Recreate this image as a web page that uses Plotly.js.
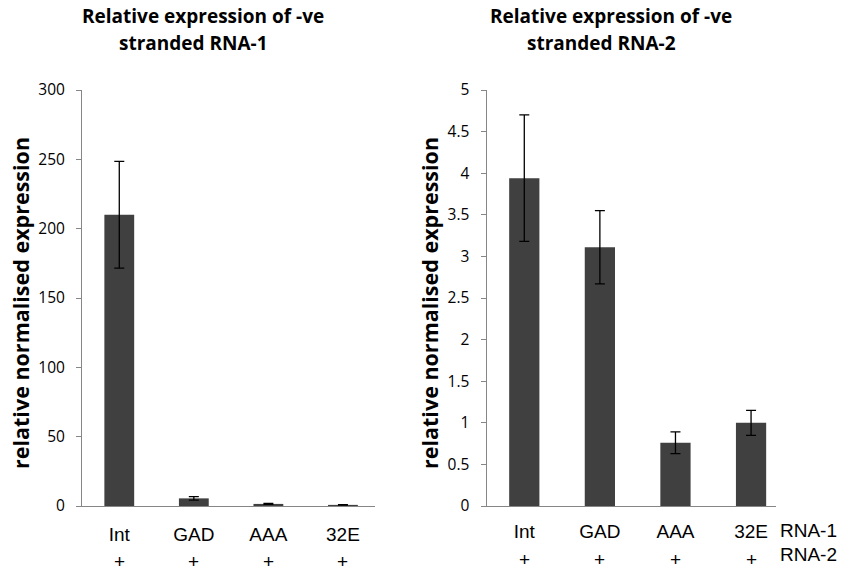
<!DOCTYPE html>
<html>
<head>
<meta charset="utf-8">
<script src="https://cdn.plot.ly/plotly-3.0.1.min.js"></script>
<style>html,body{margin:0;padding:0;background:#fff;}#chart{width:841px;height:571px;}</style>
</head>
<body>
<div id="chart"></div>
<script>
// ---- data ----
var categories = ["Int", "GAD", "AAA", "32E"];
var rna1Values = [210, 5.5, 1.5, 0.8];
var rna1Errors = [38.5, 1.3, 0.3, 0.2];
var rna2Values = [3.94, 3.11, 0.76, 1.0];
var rna2Errors = [0.76, 0.44, 0.13, 0.15];
var rna2Marks = ["+", "+", "+", "+"];
var titles = [["Relative expression of -ve", "stranded RNA-1"], ["Relative expression of -ve", "stranded RNA-2"]];
var yTitle = "relative normalised expression";
var rowLabels = ["RNA-1", "RNA-2"];

var W = 841, H = 571;
function px(x) { return x / W; }
function py(y) { return (H - y) / H; }

var barColor = "#404040";
var axisColor = "#868686";
var titleFont = {family: "Open Sans, sans-serif", size: 19, color: "#000"};
var yTitleFont = {family: "Open Sans, sans-serif", size: 21.5, color: "#000"};
var tickFontY = {family: "Open Sans, sans-serif", size: 15.5, color: "#000"};
var tickFontX = {family: "Liberation Sans, Arial, sans-serif", size: 19, color: "#000"};

var traces = [
  {type: "bar", x: categories, y: rna1Values, xaxis: "x", yaxis: "y", width: 0.4,
   marker: {color: barColor, line: {width: 0}},
   error_y: {type: "data", array: rna1Errors, visible: true, color: "#000", thickness: 1.3, width: 5}},
  {type: "bar", x: categories, y: rna2Values, xaxis: "x2", yaxis: "y2", width: 0.4,
   marker: {color: barColor, line: {width: 0}},
   error_y: {type: "data", array: rna2Errors, visible: true, color: "#000", thickness: 1.3, width: 5}}
];

function xAxis(domain, range, anchor, standoff) {
  return {domain: domain, anchor: anchor, type: "category", categoryorder: "array", categoryarray: categories,
    range: range, showline: true, linecolor: axisColor, linewidth: 1, ticks: "", showgrid: false, zeroline: false,
    tickfont: tickFontX, ticklabelstandoff: standoff, fixedrange: true};
}
function yAxis(domain, range, dtick, anchor) {
  return {domain: domain, anchor: anchor, range: range, dtick: dtick, tick0: 0, showline: true, linecolor: axisColor,
    linewidth: 1, ticks: "outside", ticklen: 5, tickcolor: axisColor, tickwidth: 1, showgrid: false, zeroline: false,
    tickfont: tickFontY, ticklabelstandoff: 8, fixedrange: true};
}

var yDom = [py(506), py(90)];
var annotations = [];
// titles
var titleCenters = [[203, 193], [611, 601]];
for (var c = 0; c < 2; c++) {
  annotations.push({text: "<b>" + titles[c][0] + "</b>", xref: "paper", yref: "paper", x: px(titleCenters[c][0]), y: py(16),
    xanchor: "center", yanchor: "middle", showarrow: false, font: titleFont});
  annotations.push({text: "<b>" + titles[c][1] + "</b>", xref: "paper", yref: "paper", x: px(titleCenters[c][1]), y: py(43),
    xanchor: "center", yanchor: "middle", showarrow: false, font: titleFont});
}
// y titles
var yTitleX = [20, 429];
for (var k = 0; k < 2; k++) {
  annotations.push({text: "<b>" + yTitle + "</b>", xref: "paper", yref: "paper", x: px(yTitleX[k]), y: py(303),
    xanchor: "center", yanchor: "middle", textangle: -90, showarrow: false, font: yTitleFont});
}
// "+" rows
for (var i = 0; i < categories.length; i++) {
  annotations.push({text: rna2Marks[i], xref: "x", yref: "paper", x: categories[i], y: 0,
    xanchor: "center", yanchor: "bottom", borderpad: 0, yshift: -2, showarrow: false, font: tickFontX});
  annotations.push({text: rna2Marks[i], xref: "x2", yref: "paper", x: categories[i], y: py(559),
    xanchor: "center", yanchor: "middle", borderpad: 0, showarrow: false, font: tickFontX});
}
annotations.push({text: rowLabels[0], xref: "paper", yref: "paper", x: px(778), y: py(530),
  xanchor: "left", yanchor: "middle", showarrow: false, font: tickFontX});
annotations.push({text: rowLabels[1], xref: "paper", yref: "paper", x: px(778), y: py(554),
  xanchor: "left", yanchor: "middle", showarrow: false, font: tickFontX});

var layout = {
  width: W, height: H, margin: {l: 0, r: 0, t: 0, b: 0}, paper_bgcolor: "#fff", plot_bgcolor: "rgba(0,0,0,0)",
  showlegend: false, bargap: 0.6,
  xaxis: xAxis([px(82), px(375)], [-0.5, 3.43], "y", 11),
  yaxis: yAxis(yDom, [0, 300], 50, "x"),
  xaxis2: xAxis([px(486.5), px(776)], [-0.5, 3.33], "y2", 8),
  yaxis2: yAxis(yDom, [0, 5], 0.5, "x2"),
  annotations: annotations
};

Plotly.newPlot("chart", traces, layout, {staticPlot: true, displayModeBar: false});
</script>
</body>
</html>
